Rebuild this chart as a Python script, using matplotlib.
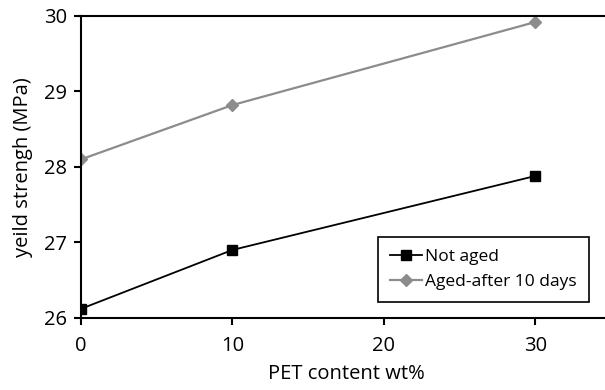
import matplotlib.pyplot as plt

plt.rcParams['font.family'] = ['Open Sans', 'DejaVu Sans']

pet = [0, 10, 30]
not_aged = [26.12, 26.90, 27.88]
aged = [28.10, 28.82, 29.92]

fig = plt.figure(figsize=(6.05, 3.9), dpi=100)
ax = fig.add_axes([0.134, 0.185, 0.876, 0.774])

ax.plot(pet, not_aged, color='black', lw=1.3, marker='s', ms=7.5, label='Not aged')
ax.plot(pet, aged, color='#8c8c8c', lw=1.6, marker='D', ms=6.5, label='Aged-after 10 days')

ax.set_xlim(0, 35)
ax.set_ylim(26, 30)
ax.set_xticks([0, 10, 20, 30])
ax.set_yticks([26, 27, 28, 29, 30])
ax.tick_params(direction='out', length=5, width=1.5, labelsize=14.5, pad=5)
ax.tick_params(axis='x', pad=8)
for s in ['left', 'top', 'bottom']:
    ax.spines[s].set_linewidth(1.5)
ax.spines['right'].set_visible(False)

ax.set_xlabel('PET content wt%', fontsize=14.5, labelpad=6)
ax.set_ylabel('yeild strengh (MPa)', fontsize=14.5, labelpad=8)

leg = ax.legend(loc='lower right', bbox_to_anchor=(0.958, 0.053), fontsize=12.5,
                fancybox=False, edgecolor='black', framealpha=1,
                handlelength=1.8, handletextpad=0.2, borderpad=0.7,
                labelspacing=0.5, borderaxespad=0)
leg.get_frame().set_linewidth(1.2)

fig.savefig('out.png', dpi=100)
